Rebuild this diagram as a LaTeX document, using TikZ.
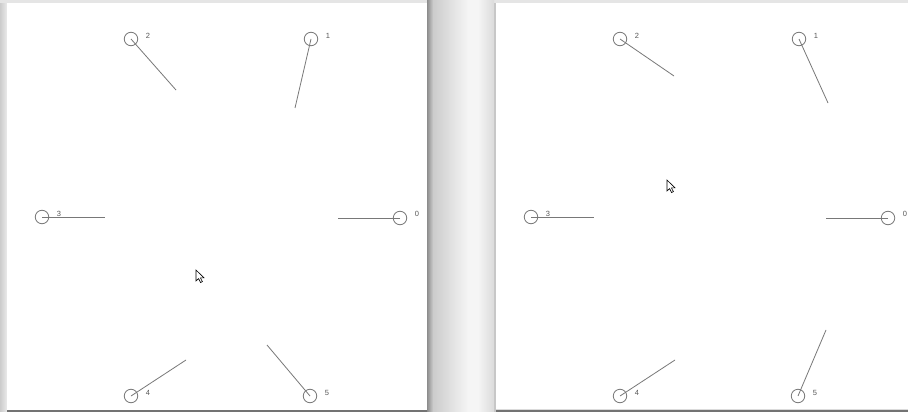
\documentclass[tikz,border=0pt]{standalone}
\usepackage{fontspec}
\setmainfont{Liberation Sans}
\definecolor{lin}{HTML}{787878}
\definecolor{txt}{HTML}{585858}
\begin{document}
\begin{tikzpicture}[x=1pt,y=-1pt,
  ring/.style={circle,draw=lin,line width=0.8pt,minimum size=13.5pt,inner sep=0pt},
  num/.style={font=\fontsize{7.5}{8}\selectfont,text=txt,inner sep=0pt},
  spoke/.style={draw=lin,line width=0.8pt},
  pointer/.style={draw=black,fill=white,line width=0.6pt,line join=miter}]
\useasboundingbox (0,0) rectangle (908,412);
% background
\fill[black!14] (0,0) rectangle (908,412);
\shade[left color=black!20,right color=black!8] (0,0) rectangle (7,412);
\fill[black!10] (0,0) rectangle (908,3);
\shade[left color=black!45,right color=black!20] (427,0) rectangle (433,412);
\shade[left color=black!20,right color=black!4] (433,0) rectangle (468,412);
\fill[black!4] (468,0) rectangle (478,412);
\shade[left color=black!4,right color=black!14] (478,0) rectangle (494,412);
\fill[black!22] (494,3) rectangle (495.5,412);
% panels
\fill[white] (7,3) rectangle (427,410);
\fill[white] (495.5,3) rectangle (908,409);
\fill[black!55] (7,410) rectangle (427,412);
\fill[black!55] (495.5,409.5) rectangle (908,412);

% ---------- left panel ----------
\node[ring] (La) at (400,218) {};
\node[ring] (Lb) at (311,39) {};
\node[ring] (Lc) at (131,39) {};
\node[ring] (Ld) at (42,217) {};
\node[ring] (Le) at (131,396) {};
\node[ring] (Lf) at (310,396) {};
\node[num] at (417,214) {0};
\node[num] at (328,36) {1};
\node[num] at (148,36) {2};
\node[num] at (59,214) {3};
\node[num] at (148,393) {4};
\node[num] at (327,393) {5};
\coordinate (La2) at (338,218);
\coordinate (Lb2) at (295,108);
\coordinate (Lc2) at (176,90);
\coordinate (Ld2) at (105,217);
\coordinate (Le2) at (186,360);
\coordinate (Lf2) at (267,345);
\foreach \n in {La,Lb,Lc,Ld,Le,Lf} \draw[spoke] (\n.center) -- (\n2);
\node[inner sep=0pt] (Lcur) at (196,270) {};
\draw[pointer] (Lcur.center) -- ++(0,11) -- ++(2.6,-2.4) -- ++(2,4) -- ++(1.8,-0.9) -- ++(-2,-3.9) -- ++(3.6,0) -- cycle;

% ---------- right panel ----------
\node[ring] (Ra) at (888,218) {};
\node[ring] (Rb) at (799,39) {};
\node[ring] (Rc) at (620,39) {};
\node[ring] (Rd) at (531,217) {};
\node[ring] (Re) at (620,396) {};
\node[ring] (Rf) at (798,396) {};
\node[num] at (905,214) {0};
\node[num] at (816,36) {1};
\node[num] at (637,36) {2};
\node[num] at (548,214) {3};
\node[num] at (637,393) {4};
\node[num] at (815,393) {5};
\coordinate (Ra2) at (826,218);
\coordinate (Rb2) at (828,103);
\coordinate (Rc2) at (674,76);
\coordinate (Rd2) at (594,217);
\coordinate (Re2) at (675,360);
\coordinate (Rf2) at (826,330);
\foreach \n in {Ra,Rb,Rc,Rd,Re,Rf} \draw[spoke] (\n.center) -- (\n2);
\node[inner sep=0pt] (Rcur) at (667,180) {};
\draw[pointer] (Rcur.center) -- ++(0,11) -- ++(2.6,-2.4) -- ++(2,4) -- ++(1.8,-0.9) -- ++(-2,-3.9) -- ++(3.6,0) -- cycle;
\end{tikzpicture}
\end{document}
